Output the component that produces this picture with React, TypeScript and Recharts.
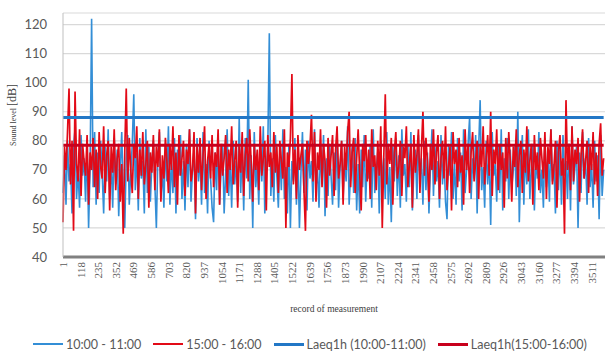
import { LineChart, Line, XAxis, YAxis, CartesianGrid, Legend } from "recharts";

// one sample every 10 s of the hour-long record
const SAMPLE_STEP = 10;

const LEVEL_1011 = [
  62, 75, 58, 80, 66, 72, 55, 78, 84, 60, 70, 57, 82, 68, 74, 59, 79, 50, 71, 122,
  64, 83, 58, 76, 62, 80, 69, 55, 78, 66, 84, 60, 73, 57, 81, 65, 77, 54, 70, 83,
  61, 50, 74, 82, 58, 69, 79, 96, 63, 76, 56, 81, 67, 73, 55, 84, 62, 78, 59, 72,
  80, 65, 50, 75, 83, 60, 71, 57, 79, 66, 85, 58, 74, 62, 81, 55, 77, 68, 82, 60,
  73, 56, 79, 64, 84, 59, 70, 77, 53, 81, 66, 75, 58, 83, 62, 72, 55, 80, 67, 57,
  52, 76, 63, 82, 58, 71, 79, 55, 68, 84, 61, 74, 57, 80, 65, 73, 59, 88, 62, 77,
  56, 81, 67, 101, 60, 75, 50, 83, 64, 72, 58, 79, 66, 85, 55, 70, 78, 117, 61, 74,
  59, 82, 68, 57, 76, 63, 84, 60, 71, 55, 79, 50, 73, 66, 81, 58, 75, 50, 69, 83,
  62, 77, 56, 80, 67, 73, 59, 84, 64, 70, 57, 78, 65, 82, 54, 74, 61, 79, 68, 58,
  76, 63, 83, 57, 71, 80, 60, 74, 66, 85, 58, 69, 78, 62, 81, 56, 72, 55, 77, 64,
  82, 59, 73, 67, 79, 57, 84, 62, 70, 76, 55, 80, 65, 74, 60, 83, 58, 71, 52, 78,
  66, 81, 61, 75, 57, 84, 68, 72, 59, 79, 64, 83, 56, 70, 77, 60, 82, 67, 74, 58,
  80, 63, 76, 55, 71, 84, 61, 78, 66, 73, 57, 82, 65, 75, 59, 53, 79, 68, 83, 60,
  72, 58, 81, 66, 76, 56, 84, 62, 70, 79, 88, 60, 74, 67, 82, 55, 77, 94, 63, 71,
  57, 80, 65, 75, 51, 83, 68, 72, 59, 79, 62, 84, 56, 74, 66, 81, 60, 77, 64, 70,
  78, 61, 90, 52, 73, 82, 58, 76, 65, 84, 60, 71, 79, 56, 74, 67, 83, 62, 70, 57,
  81, 64, 75, 59, 84, 66, 72, 55, 80, 63, 77, 58, 82, 68, 73, 60, 79, 56, 85, 65,
  71, 78, 50, 76, 62, 83, 67, 74, 58, 81, 64, 72, 57, 80, 66, 75, 53, 82, 61, 70,
];

const LEVEL_1516 = [
  52, 78, 70, 83, 98, 65, 80, 49, 97, 72, 66, 84, 61, 79, 73, 68, 82, 58, 76, 70,
  81, 64, 77, 60, 83, 71, 67, 85, 62, 75, 80, 56, 78, 69, 84, 63, 74, 79, 59, 72,
  48, 76, 98, 66, 81, 70, 62, 79, 74, 85, 60, 77, 68, 83, 65, 72, 80, 57, 76, 69,
  82, 63, 78, 71, 84, 59, 75, 67, 81, 73, 62, 79, 70, 85, 64, 76, 58, 82, 68, 74,
  80, 61, 77, 72, 84, 66, 70, 83, 55, 78, 69, 81, 63, 75, 85, 60, 73, 79, 67, 82,
  64, 76, 71, 84, 58, 79, 68, 74, 82, 62, 77, 70, 85, 65, 73, 80, 57, 78, 69, 83,
  61, 75, 81, 66, 84, 72, 59, 79, 70, 77, 63, 85, 68, 74, 80, 56, 82, 71, 76, 64,
  83, 69, 78, 62, 80, 73, 67, 84, 50, 76, 71, 81, 103, 65, 77, 60, 82, 70, 75, 79,
  63, 49, 80, 72, 78, 89, 66, 83, 59, 76, 70, 84, 64, 79, 73, 57, 81, 68, 75, 82,
  61, 77, 85, 67, 72, 80, 58, 78, 70, 83, 90, 64, 76, 81, 62, 74, 84, 69, 56, 79,
  73, 82, 66, 77, 60, 84, 71, 75, 63, 80, 68, 85, 50, 74, 96, 65, 79, 72, 81, 58,
  76, 83, 67, 71, 80, 61, 78, 74, 85, 64, 72, 79, 57, 82, 69, 75, 84, 62, 77, 90,
  68, 81, 73, 59, 79, 70, 84, 65, 76, 82, 60, 74, 80, 67, 85, 63, 71, 78, 56, 83,
  72, 77, 64, 81, 69, 75, 58, 84, 70, 79, 62, 76, 83, 66, 73, 80, 60, 78, 71, 85,
  65, 74, 82, 68, 90, 61, 77, 72, 84, 63, 79, 70, 76, 57, 81, 67, 83, 73, 59, 78,
  71, 84, 64, 75, 80, 62, 77, 69, 85, 66, 73, 79, 58, 82, 70, 76, 63, 81, 74, 67,
  83, 60, 78, 72, 84, 65, 71, 80, 57, 76, 82, 68, 74, 48, 94, 70, 79, 63, 85, 66,
  77, 72, 81, 59, 75, 84, 67, 73, 80, 62, 78, 70, 83, 65, 76, 61, 79, 86, 68, 74,
];

const LAEQ_1011 = 88;
const LAEQ_1516 = 78.5;

const SECONDS = LEVEL_1011.map((_, i) => 1 + i * SAMPLE_STEP);

const X_TICKS = [
  1, 118, 235, 352, 469, 586, 703, 820, 937, 1054, 1171, 1288, 1405, 1522, 1639,
  1756, 1873, 1990, 2107, 2224, 2341, 2458, 2575, 2692, 2809, 2926, 3043, 3160,
  3277, 3394, 3511,
];
const Y_TICKS = [40, 50, 60, 70, 80, 90, 100, 110, 120];

const data = SECONDS.map((s, i) => ({
  s,
  a: LEVEL_1011[i],
  b: LEVEL_1516[i],
  la: LAEQ_1011,
  lb: LAEQ_1516,
}));

const SERIES = [
  { key: "a", name: "10:00 - 11:00", color: "#338ed6", width: 1.6, legendWidth: 1.5 },
  { key: "b", name: "15:00 - 16:00", color: "#e20a17", width: 1.7, legendWidth: 1.5 },
  { key: "la", name: "Laeq1h (10:00-11:00)", color: "#2277c6", width: 3, legendWidth: 3 },
  { key: "lb", name: "Laeq1h(15:00-16:00)", color: "#c8001c", width: 3, legendWidth: 3 },
];

const sans = "Lato, 'Open Sans', sans-serif";
const serif = "'Liberation Serif', serif";

function XTick({ x, y, payload }: any) {
  return (
    <text
      x={x}
      y={y}
      transform={`rotate(-90 ${x} ${y})`}
      textAnchor="end"
      dominantBaseline="central"
      fontFamily={serif}
      fontSize={11}
      fill="#595959"
    >
      {payload.value}
    </text>
  );
}

function renderXTitle(props: any) {
  const vb = props.viewBox;
  return (
    <text
      x={vb.x + vb.width / 2}
      y={vb.y + 55}
      textAnchor="middle"
      fontFamily={serif}
      fontSize={9.5}
      fill="#404040"
    >
      record of measurement
    </text>
  );
}

function renderYTitle() {
  return (
    <text
      x={16}
      y={115}
      transform="rotate(-90 16 115)"
      textAnchor="middle"
      fontFamily={serif}
      fill="#404040"
    >
      <tspan fontSize={8}>Sound level </tspan>
      <tspan fontSize={12}> [dB]</tspan>
    </text>
  );
}

function renderLegend() {
  return (
    <div
      style={{
        display: "flex",
        alignItems: "center",
        height: 22,
        paddingLeft: 33,
        fontFamily: sans,
        fontSize: 12.5,
        color: "#595959",
      }}
    >
      {SERIES.map((s) => (
        <div key={s.key} style={{ display: "flex", alignItems: "center", marginRight: 12 }}>
          <span
            style={{
              display: "inline-block",
              width: 30,
              height: s.legendWidth,
              background: s.color,
              marginRight: 3,
            }}
          />
          <span>{s.name}</span>
        </div>
      ))}
    </div>
  );
}

export default function App() {
  return (
    <div style={{ position: "absolute", left: 0, top: 0, background: "#fff" }}>
      <LineChart
        width={607}
        height={355}
        data={data}
        margin={{ top: 13, right: 2, left: 0, bottom: 0 }}
      >
        <CartesianGrid vertical={false} stroke="#d9d9d9" strokeWidth={1.2} />
        <XAxis
          dataKey="s"
          type="number"
          domain={[1, 3600]}
          ticks={X_TICKS}
          interval={0}
          height={76}
          tick={<XTick />}
          tickLine={false}
          tickSize={0}
          tickMargin={5}
          axisLine={{ stroke: "#808080", strokeWidth: 3 }}
          label={renderXTitle}
        />
        <YAxis
          type="number"
          domain={[40, 124]}
          ticks={Y_TICKS}
          interval={0}
          width={63}
          tickLine={false}
          tickMargin={10}
          axisLine={{ stroke: "#bfbfbf" }}
          tick={{ fontFamily: sans, fontSize: 13, fill: "#595959" }}
          label={renderYTitle}
        />
        <Legend verticalAlign="bottom" height={22} content={renderLegend} />
        {SERIES.map((s) => (
          <Line
            key={s.key}
            dataKey={s.key}
            name={s.name}
            type="linear"
            stroke={s.color}
            strokeWidth={s.width}
            dot={false}
            activeDot={false}
            isAnimationActive={false}
          />
        ))}
      </LineChart>
    </div>
  );
}
